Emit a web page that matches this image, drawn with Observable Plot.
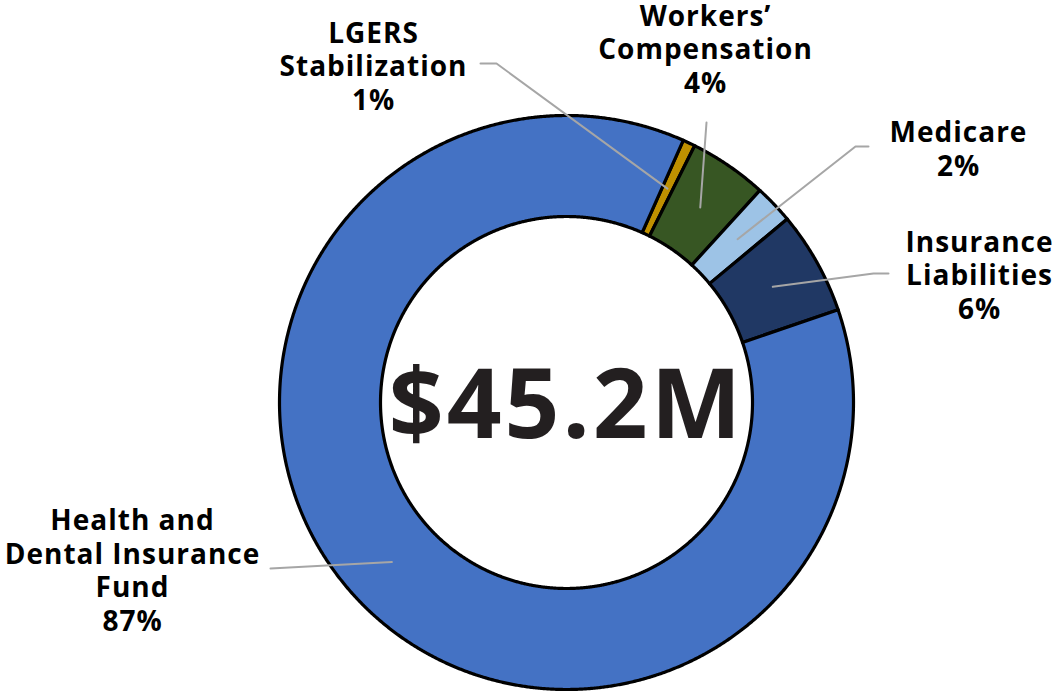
<!DOCTYPE html>
<html><head><meta charset="utf-8">
<script src="https://cdn.jsdelivr.net/npm/d3@7"></script>
<script src="https://cdn.jsdelivr.net/npm/@observablehq/plot@0.6"></script>
<style>
html,body{margin:0;padding:0;background:#fff;overflow:hidden}
</style></head><body><div id="chart"></div>
<script>
// ---- data ----
const categories = ["LGERS\nStabilization", "Workers’\nCompensation", "Medicare", "Insurance\nLiabilities", "Health and\nDental Insurance\nFund"];
const shares = [0.7, 4.4, 2.2, 5.8, 86.9];
const percentLabels = ["1%", "4%", "2%", "6%", "87%"];
const colors = ["#BF9000", "#375623", "#9DC3E6", "#203864", "#4472C4"];
const totalLabel = "$45.2M";

// ---- layout ----
const W = 1055, H = 694;
const cx = 566, cy = 402, R = 287, r = 186;
const startDeg = 24;
const FONT = "'Open Sans', sans-serif";
const labelLayout = [
  {tx: 373, ty: 109, leader: [[480, 63], [496, 63]]},
  {tx: 705, ty: 92,  leader: [[706, 122]]},
  {tx: 958, ty: 175, leader: [[868, 146], [855, 146]]},
  {tx: 979, ty: 318, leader: [[888, 273], [873, 273]]},
  {tx: 132, ty: 630, leader: [[270, 568]]}
];

const rows = categories.map((c, i) => ({category: c, share: shares[i], pct: percentLabels[i], color: colors[i], ...labelLayout[i]}));

const a0 = startDeg * Math.PI / 180;
const arcs = d3.pie().sort(null).value(d => d.share).startAngle(a0).endAngle(a0 + 2 * Math.PI)(rows);
const pt = (rad, a) => [cx + rad * Math.sin(a), cy - rad * Math.cos(a)];

const slices = arcs.map(a => {
  const n = Math.max(2, Math.ceil((a.endAngle - a.startAngle) / (Math.PI / 720)));
  const outer = d3.range(n + 1).map(k => pt(R, a.startAngle + (a.endAngle - a.startAngle) * k / n));
  const inner = d3.range(n + 1).map(k => pt(r, a.endAngle - (a.endAngle - a.startAngle) * k / n));
  const ring = [...outer, ...inner, outer[0]];
  return {type: "Feature", properties: {color: a.data.color}, geometry: {type: "Polygon", coordinates: [ring]}};
});

const leaders = arcs.map(a => {
  const mid = (a.startAngle + a.endAngle) / 2;
  const c = pt((R + r) / 2, mid);
  return {type: "Feature", properties: {}, geometry: {type: "LineString", coordinates: [...a.data.leader, c]}};
});

const chart = Plot.plot({
  width: W, height: H,
  margin: 0,
  projection: {type: "identity"},
  color: {type: "identity"},
  style: {fontFamily: FONT, background: "#fff"},
  marks: [
    Plot.geo(slices, {fill: d => d.properties.color, stroke: "#000", strokeWidth: 3.2}),
    Plot.geo(leaders, {stroke: "#A6A6A6", strokeWidth: 2, fill: "none"}),
    Plot.text(rows, {x: "tx", y: "ty", text: d => d.category + "\n" + d.pct, lineAnchor: "bottom", lineHeight: 33.5 / 28,
      fontSize: 28, fontWeight: 700, fill: "#000", textAnchor: "middle", fontFamily: FONT}),
    Plot.text([totalLabel], {x: () => cx, y: () => cy + 35, text: d => d, lineAnchor: "bottom", fontSize: 96, fontWeight: 700,
      fill: "#231F20", textAnchor: "middle", fontFamily: FONT})
  ]
});
// widen tracking to approximate the reference's wider typeface
d3.select(chart).selectAll("text").each(function () {
  const isTotal = this.textContent === totalLabel;
  this.style.letterSpacing = isTotal ? "3px" : "1px";
});
document.getElementById("chart").append(chart);
</script></body></html>
